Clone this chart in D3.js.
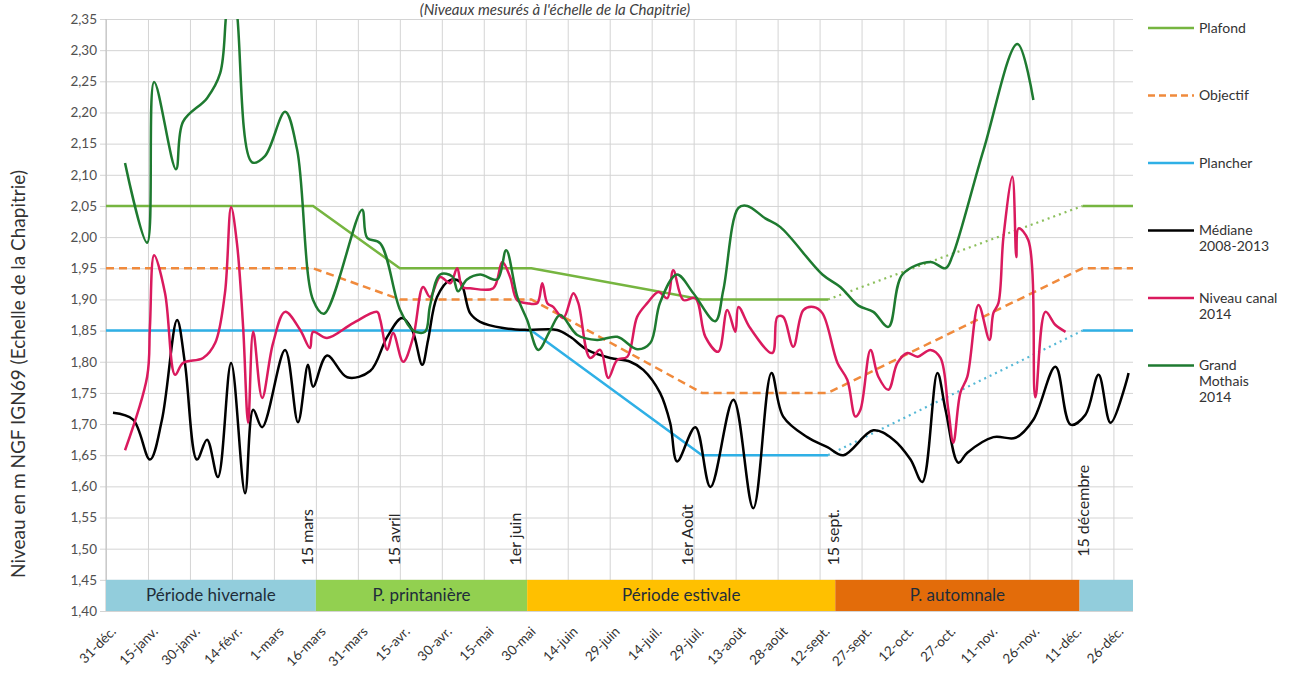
<!DOCTYPE html>
<html><head><meta charset="utf-8">
<script src="https://cdn.jsdelivr.net/npm/d3@7"></script>
<style>
body{margin:0;background:#fff;}
svg{display:block;font-family:Lato,"Open Sans",sans-serif;}
</style></head>
<body><svg id="chart" width="1311" height="682"></svg>
<script>
// ---------- DATA ----------
const xTickLabels = ["31-déc.","15-janv.","30-janv.","14-févr.","1-mars","16-mars","31-mars","15-avr.","30-avr.","15-mai","30-mai","14-juin","29-juin","14-juil.","29-juil.","13-août","28-août","12-sept.","27-sept.","12-oct.","27-oct.","11-nov.","26-nov.","11-déc.","26-déc."];
const yTickValues = [1.40,1.45,1.50,1.55,1.60,1.65,1.70,1.75,1.80,1.85,1.90,1.95,2.00,2.05,2.10,2.15,2.20,2.25,2.30,2.35];

// reference curves (day since 31 Dec)
const refDays   = [0, 74, 105, 152, 213, 258, 349, 367];
const plafond   = [2.05, 2.05, 1.95, 1.95, 1.90, 1.90, 2.05, 2.05];
const objectif  = [1.95, 1.95, 1.90, 1.90, 1.75, 1.75, 1.95, 1.95];
const plancher  = [1.85, 1.85, 1.85, 1.85, 1.65, 1.65, 1.85, 1.85];

const medianeDays = [2.5,9.7,15.7,20,25.4,28.2,32.5,36.1,40,44.7,49.7,52.6,55.8,64,68.6,72.2,74,79,86.2,94.4,100.5,105.8,109.4,113,115.1,118.3,123,126.6,130.1,133.7,141.9,150.5,161.2,165.9,172,180.2,187.3,192,198,201.6,204.1,210.6,216,224.2,231.3,237.8,242,250.6,257.8,263.5,274.2,281.4,287.5,291.7,297.1,300,304.6,307.8,317.1,325,331.4,339.3,344.7,350,354.7,359,365.4];
const medianeVals = [1.718,1.707,1.643,1.707,1.867,1.798,1.643,1.675,1.615,1.798,1.589,1.723,1.695,1.819,1.703,1.795,1.76,1.81,1.775,1.785,1.84,1.87,1.851,1.795,1.835,1.904,1.931,1.928,1.878,1.864,1.854,1.851,1.851,1.84,1.819,1.806,1.80,1.787,1.75,1.702,1.64,1.695,1.599,1.739,1.565,1.782,1.712,1.679,1.663,1.65,1.69,1.675,1.643,1.607,1.782,1.723,1.638,1.654,1.679,1.678,1.707,1.792,1.699,1.715,1.779,1.702,1.782];

const canalDays = [6.8,14.7,15.7,17.2,21.1,24.7,27.5,34.7,39,42.5,44.7,46.8,49,50.8,52.6,55.8,59.7,64,69.4,72.9,74,79,88.3,96.9,98,100.5,102.6,106.2,109.8,113.3,115.8,119.4,123,125.5,127.3,130.1,138.4,141.6,144.4,146.9,150.5,154.1,155.9,157.7,159.8,163.4,167,168.8,173,176.6,179.5,182.7,186.3,189.8,193.4,197.4,200.6,202.7,206.3,210.6,214.2,218.8,222,224.9,226,230.2,238.1,239.9,242,245.6,249.2,252.8,256,261.4,264.9,267.8,269.6,273.2,276,279.6,282.8,286.4,290,294.6,298.2,301,302.8,305.3,307.8,311.8,315.7,317.1,318.9,320.7,323.9,325.3,326.1,329.6,332.1,335.7,339.3,342.9];
const canalVals = [1.658,1.776,1.856,1.971,1.91,1.779,1.798,1.806,1.83,1.91,2.048,1.99,1.856,1.702,1.848,1.742,1.83,1.88,1.851,1.822,1.848,1.838,1.862,1.88,1.867,1.819,1.846,1.80,1.84,1.92,1.904,1.936,1.926,1.95,1.92,1.918,1.918,1.96,1.936,1.899,1.894,1.894,1.926,1.894,1.888,1.87,1.91,1.894,1.806,1.819,1.774,1.803,1.808,1.872,1.894,1.912,1.902,1.947,1.899,1.902,1.84,1.816,1.883,1.848,1.888,1.854,1.814,1.872,1.872,1.824,1.883,1.888,1.878,1.798,1.771,1.712,1.723,1.819,1.776,1.755,1.798,1.814,1.808,1.819,1.806,1.723,1.67,1.75,1.776,1.891,1.835,1.878,1.894,2.0,2.097,1.968,2.014,1.995,1.743,1.88,1.859,1.848];

const mothaisDays = [6.8,14.7,17.2,25,27.5,36.1,40.8,43,44.8,46.8,52.2,56.8,64,68.3,74,77.9,91.5,93.3,98,105.1,109.8,114,115.8,119.4,123.7,125.8,129,133.7,139.8,143,147,150.5,154.5,158.7,162.3,168.4,175.5,182.7,189.8,194.5,198,204,209.9,217.7,220.6,226,229.2,235.6,241,256,262.4,268.9,274.2,279.6,284.6,294.6,300,302.5,313.6,325.7,331.4];
const mothaisVals = [2.119,1.991,2.249,2.109,2.185,2.223,2.263,2.36,2.42,2.36,2.12,2.13,2.201,2.14,1.899,1.877,2.044,1.999,1.99,1.883,1.85,1.848,1.89,1.94,1.937,1.913,1.932,1.94,1.932,1.979,1.904,1.867,1.819,1.85,1.875,1.843,1.835,1.84,1.82,1.83,1.895,1.94,1.91,1.865,1.915,2.047,2.05,2.03,2.016,1.94,1.92,1.89,1.88,1.856,1.94,1.96,1.95,1.97,2.14,2.31,2.22];

const periodNames  = ["Période hivernale","P. printanière","Période estivale","P. automnale",""];
const periodStarts = [0, 75, 150.5, 260.6, 347.9];
const periodEnds   = [75, 150.5, 260.6, 347.9, 367];

const markerLabels = ["15 mars","15 avril","1er juin","1er Août","15 sept.","15 décembre"];
const markerDays   = [73.8, 104.9, 148.3, 209.8, 262, 351.3];
const markerBases  = [1.473, 1.473, 1.473, 1.473, 1.473, 1.487];

const legendNames = [["Plafond"],["Objectif"],["Plancher"],["Médiane","2008-2013"],["Niveau canal","2014"],["Grand","Mothais","2014"]];

// ---------- STYLE ----------
const C = {plafond:"#76b540", objectif:"#f08a3c", plancher:"#2fb0e6", mediane:"#000000", canal:"#da1a5e", mothais:"#1e7a30",
  bands:["#92cddc","#92d050","#ffc000","#e36c0a","#92cddc"], grid:"#d4d4d4", text:"#333333"};

const svg = d3.select("#chart");
const X0=106, X1=1133, Y0=19, Y1=611;
const x = d3.scaleLinear().domain([0,367]).range([X0,X1]);
const y = d3.scaleLinear().domain([1.40,2.35]).range([Y1,Y0]);
const fmt = v => d3.format(".2f")(v).replace(".", ",");

svg.append("rect").attr("width",1311).attr("height",682).attr("fill","#fff");

// title
svg.append("text").attr("x",555).attr("y",15).attr("text-anchor","middle")
  .attr("font-size",15).attr("fill","#404040").attr("font-style","italic")
  .text("(Niveaux mesurés à l'échelle de la Chapitrie)");

// y axis + horizontal grid
const gy = svg.append("g").attr("transform",`translate(${X0},0)`)
  .call(d3.axisLeft(y).tickValues(yTickValues).tickFormat(fmt).tickSize(-(X1-X0)).tickPadding(9));
gy.select(".domain").remove();
gy.selectAll(".tick line").attr("stroke",C.grid).attr("x2",X1-X0).attr("x1",-6);
gy.selectAll(".tick text").attr("font-size",13.5).attr("fill","#505050").attr("font-family","Lato");

// x axis + vertical grid
const xTickValues = xTickLabels.map((d,i)=>i*15);
const gx = svg.append("g").attr("transform",`translate(0,${Y1})`)
  .call(d3.axisBottom(x).tickValues(xTickValues).tickFormat((d,i)=>xTickLabels[i]).tickSize(-(Y1-Y0)).tickPadding(0));
gx.select(".domain").remove();
gx.selectAll(".tick line").attr("stroke",C.grid);
gx.selectAll(".tick text").attr("font-size",13.5).attr("fill",C.text).attr("font-family","Lato")
  .attr("text-anchor","end").attr("y",0).attr("dy","0.35em")
  .attr("transform","translate(7,18) rotate(-45)");

svg.append("line").attr("x1",X0).attr("x2",X0).attr("y1",Y0).attr("y2",Y1).attr("stroke","#bfbfbf");

// period band
const band = svg.append("g");
periodNames.forEach((n,i)=>{
  band.append("rect").attr("x",x(periodStarts[i])).attr("width",x(periodEnds[i])-x(periodStarts[i]))
    .attr("y",y(1.45)).attr("height",y(1.40)-y(1.45)).attr("fill",C.bands[i]);
  if(n) band.append("text").attr("x",(x(periodStarts[i])+x(periodEnds[i]))/2).attr("y",(y(1.45)+y(1.40))/2)
    .attr("dy","0.35em").attr("text-anchor","middle").attr("font-size",17).attr("fill","#1f2d3a").text(n);
});

// marker labels (vertical)
markerLabels.forEach((t,i)=>{
  svg.append("text").attr("transform",`translate(${x(markerDays[i])},${y(markerBases[i])}) rotate(-90)`)
    .attr("font-size",16).attr("fill","#262626").text(t);
});

// clip
svg.append("clipPath").attr("id","clip").append("rect").attr("x",X0).attr("y",Y0).attr("width",X1-X0).attr("height",Y1-Y0);
const plot = svg.append("g").attr("clip-path","url(#clip)");

const straight = d3.line().x(d=>x(d[0])).y(d=>y(d[1]));
const smooth = d3.line().x(d=>x(d[0])).y(d=>y(d[1])).curve(d3.curveCatmullRom.alpha(0.5));

function refLine(vals, color, dash, dottedColor, dotted){
  const pts = refDays.map((d,i)=>[d,vals[i]]);
  if(dotted){
    plot.append("path").attr("d",straight(pts.slice(0,6))).attr("fill","none").attr("stroke",color).attr("stroke-width",2.5);
    plot.append("path").attr("d",straight(pts.slice(5,7))).attr("fill","none").attr("stroke",dottedColor).attr("stroke-width",2.2).attr("stroke-dasharray","2,4");
    plot.append("path").attr("d",straight(pts.slice(6))).attr("fill","none").attr("stroke",color).attr("stroke-width",2.5);
  } else {
    plot.append("path").attr("d",straight(pts)).attr("fill","none").attr("stroke",color).attr("stroke-width",2.5).attr("stroke-dasharray",dash);
  }
}
refLine(plafond, C.plafond, null, "#8cbf5c", true);
refLine(objectif, C.objectif, "8,5", null, false);
refLine(plancher, C.plancher, null, "#55b8d6", true);

function dataLine(days, vals, color){
  plot.append("path").attr("d",smooth(days.map((d,i)=>[d,vals[i]]))).attr("fill","none")
    .attr("stroke",color).attr("stroke-width",2.5).attr("stroke-linejoin","round");
}
dataLine(medianeDays, medianeVals, C.mediane);
dataLine(canalDays, canalVals, C.canal);
dataLine(mothaisDays, mothaisVals, C.mothais);

// legend
const legColors = [C.plafond,C.objectif,C.plancher,C.mediane,C.canal,C.mothais];
const legY = [28, 95.5, 163, 230.5, 298, 365.5];
legendNames.forEach((lines,i)=>{
  svg.append("line").attr("x1",1148).attr("x2",1194).attr("y1",legY[i]).attr("y2",legY[i])
    .attr("stroke",legColors[i]).attr("stroke-width",2.5).attr("stroke-dasharray", i===1?"7,4":null);
  lines.forEach((t,j)=>{
    svg.append("text").attr("x",1199).attr("y",legY[i]+j*16).attr("dy","0.35em")
      .attr("font-size",14).attr("fill","#333").text(t);
  });
});

// y axis title
svg.append("text").attr("transform","translate(25,374) rotate(-90)").attr("text-anchor","middle")
  .attr("font-size",19).attr("fill","#333").text("Niveau en m NGF IGN69  (Echelle de la Chapitrie)");
</script></body></html>
